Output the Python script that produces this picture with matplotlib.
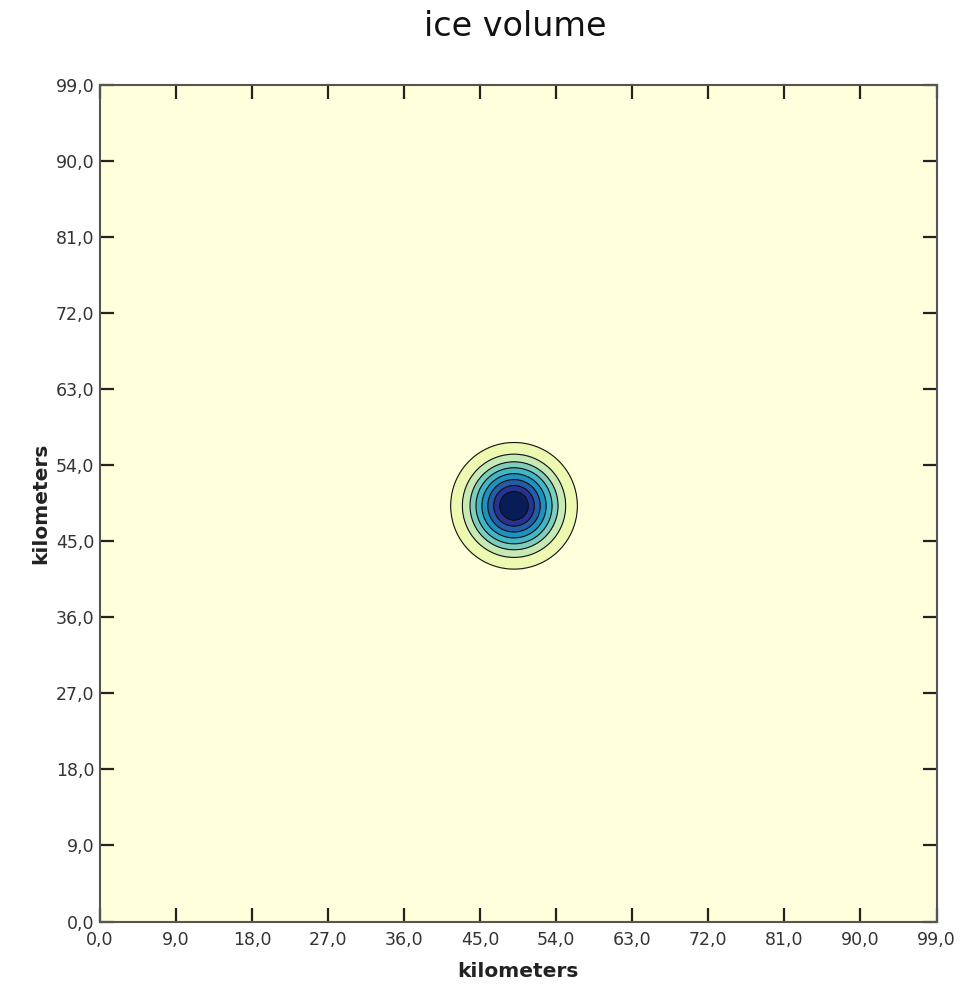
#!/usr/bin/env python3
# -*- coding: utf-8 -*-
"""
ice volume map - single dome on a 99 x 99 km grid
"""

import numpy as np
import matplotlib
matplotlib.use('Agg')
import matplotlib.pyplot as plt
from matplotlib.ticker import FuncFormatter

#%% Data
# dome centre (km)
centre_x = 49.0
centre_y = 49.2
# radial profile of the dome: distance from centre (km) vs ice volume (level units)
profile_r = [0.0, 1.7, 2.4, 3.1, 3.8, 4.5, 5.2, 6.1, 7.5, 8.5, 200.0]
profile_v = [9.5, 8.0, 7.0, 6.0, 5.0, 4.0, 3.0, 2.0, 1.0, 0.0, 0.0]
levels = [0, 1, 2, 3, 4, 5, 6, 7, 8, 10]
band_colors = ['#ffffdc', '#edf8b1', '#c7e9b4', '#7fcdbb', '#41b6c4',
               '#1d91c0', '#225ea8', '#253494', '#081d58']
ticks = [0, 9, 18, 27, 36, 45, 54, 63, 72, 81, 90, 99]

#%% Build the field on the grid
xs = np.linspace(0, 99, 793)
ys = np.linspace(0, 99, 793)
X, Y = np.meshgrid(xs, ys)
dist = np.hypot(X - centre_x, Y - centre_y)
vol = np.interp(dist, profile_r, profile_v)

#%% Plot
fig = plt.figure(figsize=(9.64, 9.84), dpi=100)
ax = fig.add_axes([0.1037, 0.0635, 0.8678, 0.8501])
ax.contourf(X, Y, vol, levels=levels, colors=band_colors)
ax.contour(X, Y, vol, levels=levels[1:-1], colors='#111111', linewidths=0.8)

ax.set_xlim(0, 99)
ax.set_ylim(0, 99)
ax.set_xticks(ticks)
ax.set_yticks(ticks)
fmt = FuncFormatter(lambda v, p: f'{v:.1f}'.replace('.', ','))
ax.xaxis.set_major_formatter(fmt)
ax.yaxis.set_major_formatter(fmt)
ax.tick_params(direction='in', length=10, width=1.6, color='#222222',
               top=True, right=True, labelsize=12.5, labelcolor='#333333')
ax.tick_params(axis='x', pad=7)
ax.tick_params(axis='y', pad=4)
for sp in ax.spines.values():
    sp.set_color('#555555')
    sp.set_linewidth(1.5)

ax.set_xlabel('kilometers', fontsize=14.5, fontweight='bold', color='#222222', labelpad=9)
ax.set_ylabel('kilometers', fontsize=14.5, fontweight='bold', color='#222222', labelpad=4)
fig.text(0.535, 0.973, 'ice volume', ha='center', va='center', fontsize=24, color='#111111')

plt.savefig('out.png', dpi=100)
